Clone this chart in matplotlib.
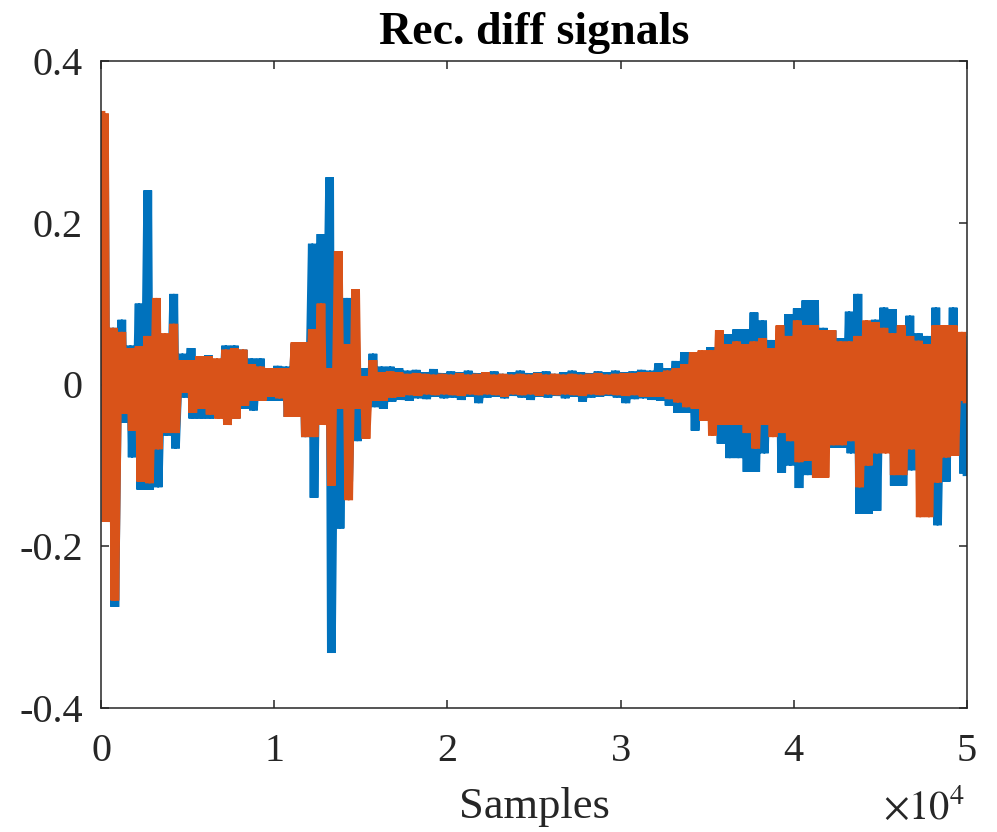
import matplotlib
matplotlib.use('Agg')
import matplotlib.pyplot as plt
import numpy as np

plt.rcParams['font.family'] = ['Liberation Serif', 'DejaVu Serif']
plt.rcParams['mathtext.fontset'] = 'stix'

# each bin covers 500 samples; values are the upper / lower swing read in that bin
bin_width = 500

blue_hi = [0.31, 0.07, 0.08, 0.048, 0.10, 0.24, 0.05, 0.05, 0.112, 0.038,
           0.045, 0.035, 0.036, 0.021, 0.048, 0.048, 0.043, 0.032, 0.032, 0.02,
           0.023, 0.022, 0.05, 0.05, 0.174, 0.186, 0.256, 0.10, 0.107, 0.06,
           0.02, 0.038, 0.022, 0.022, 0.02, 0.017, 0.018, 0.015, 0.019, 0.014,
           0.016, 0.015, 0.017, 0.014, 0.015, 0.016, 0.013, 0.015, 0.017, 0.014,
           0.015, 0.016, 0.013, 0.015, 0.017, 0.015, 0.014, 0.016, 0.015, 0.017,
           0.015, 0.016, 0.018, 0.017, 0.026, 0.02, 0.029, 0.04, 0.03, 0.035,
           0.046, 0.04, 0.062, 0.068, 0.068, 0.089, 0.079, 0.055, 0.06, 0.087,
           0.094, 0.104, 0.104, 0.07, 0.067, 0.057, 0.09, 0.112, 0.07, 0.08,
           0.095, 0.093, 0.07, 0.085, 0.063, 0.06, 0.095, 0.06, 0.095, 0.06]
blue_lo = [-0.17, -0.275, -0.047, -0.09, -0.13, -0.13, -0.127, -0.063, -0.079, -0.016,
           -0.042, -0.042, -0.042, -0.033, -0.05, -0.042, -0.03, -0.032, -0.02, -0.02,
           -0.02, -0.04, -0.04, -0.065, -0.14, -0.05, -0.332, -0.178, -0.12, -0.07,
           -0.05, -0.028, -0.03, -0.021, -0.019, -0.02, -0.017, -0.018, -0.015, -0.017,
           -0.016, -0.019, -0.015, -0.023, -0.016, -0.015, -0.017, -0.014, -0.016, -0.019,
           -0.015, -0.016, -0.014, -0.017, -0.015, -0.021, -0.016, -0.015, -0.014, -0.016,
           -0.023, -0.018, -0.017, -0.019, -0.02, -0.026, -0.035, -0.035, -0.057, -0.04,
           -0.05, -0.073, -0.091, -0.091, -0.108, -0.108, -0.085, -0.06, -0.109, -0.10,
           -0.128, -0.112, -0.09, -0.07, -0.078, -0.078, -0.085, -0.16, -0.16, -0.156,
           -0.08, -0.125, -0.125, -0.106, -0.10, -0.137, -0.174, -0.12, -0.08, -0.11]

orange_hi = [0.335, 0.07, 0.065, 0.045, 0.047, 0.06, 0.107, 0.063, 0.075, 0.03,
             0.03, 0.035, 0.035, 0.032, 0.043, 0.045, 0.043, 0.025, 0.022, 0.02,
             0.02, 0.02, 0.052, 0.052, 0.068, 0.10, 0.02, 0.165, 0.05, 0.118,
             0.01, 0.03, 0.015, 0.016, 0.015, 0.013, 0.014, 0.013, 0.012, 0.013,
             0.012, 0.014, 0.012, 0.013, 0.015, 0.012, 0.013, 0.012, 0.013, 0.012,
             0.014, 0.012, 0.013, 0.012, 0.013, 0.012, 0.013, 0.014, 0.012, 0.013,
             0.014, 0.014, 0.015, 0.015, 0.015, 0.017, 0.02, 0.025, 0.04, 0.042,
             0.042, 0.067, 0.05, 0.053, 0.05, 0.053, 0.057, 0.045, 0.073, 0.06,
             0.079, 0.073, 0.073, 0.067, 0.067, 0.053, 0.053, 0.06, 0.079, 0.077,
             0.07, 0.063, 0.073, 0.06, 0.054, 0.05, 0.073, 0.073, 0.073, 0.065]
orange_lo = [-0.17, -0.267, -0.036, -0.057, -0.12, -0.122, -0.08, -0.06, -0.06, -0.01,
             -0.035, -0.03, -0.037, -0.042, -0.05, -0.042, -0.026, -0.02, -0.02, -0.015,
             -0.017, -0.04, -0.04, -0.065, -0.065, -0.05, -0.125, -0.03, -0.143, -0.03,
             -0.067, -0.02, -0.02, -0.016, -0.015, -0.013, -0.014, -0.012, -0.013, -0.012,
             -0.013, -0.014, -0.012, -0.013, -0.012, -0.013, -0.015, -0.012, -0.013, -0.012,
             -0.014, -0.012, -0.013, -0.012, -0.013, -0.014, -0.012, -0.013, -0.012, -0.013,
             -0.014, -0.013, -0.015, -0.015, -0.015, -0.018, -0.022, -0.028, -0.03, -0.045,
             -0.063, -0.05, -0.05, -0.05, -0.06, -0.079, -0.05, -0.065, -0.06, -0.07,
             -0.096, -0.094, -0.115, -0.115, -0.075, -0.075, -0.07, -0.127, -0.10, -0.085,
             -0.085, -0.112, -0.112, -0.08, -0.164, -0.164, -0.121, -0.09, -0.088, -0.02]


def swing(hi, lo):
    # the signal swings between the bin's high and low twice inside each bin
    n = len(hi)
    starts = np.arange(n) * bin_width
    x = np.empty(4 * n)
    y = np.empty(4 * n)
    for k, f in enumerate([0.2, 0.4, 0.6, 0.8]):
        x[k::4] = starts + f * bin_width
    y[0::4] = hi
    y[1::4] = lo
    y[2::4] = hi
    y[3::4] = lo
    return x, y


fig = plt.figure(figsize=(9.97, 8.32), dpi=100)
ax = fig.add_axes([101 / 997, 1 - 708 / 832, 866 / 997, 647 / 832])

xb, yb = swing(blue_hi, blue_lo)
xo, yo = swing(orange_hi, orange_lo)
ax.plot(xb, yb, color='#0072BD', lw=3.8, solid_joinstyle='bevel')
ax.plot(xo, yo, color='#D95319', lw=3.8, solid_joinstyle='bevel')

ax.set_xlim(0, 50000)
ax.set_ylim(-0.4, 0.4)
ax.set_xticks([0, 10000, 20000, 30000, 40000, 50000])
ax.set_xticklabels(['0', '1', '2', '3', '4', '5'])
ax.set_yticks([-0.4, -0.2, 0, 0.2, 0.4])
ax.set_yticklabels(['-0.4', '-0.2', '0', '0.2', '0.4'])

for s in ax.spines.values():
    s.set_color('#262626')
    s.set_linewidth(1.1)
ax.tick_params(direction='in', length=6, width=1.1, color='#262626',
               labelcolor='#262626', labelsize=29, top=True, right=True)
ax.tick_params(axis='x', pad=18)
ax.tick_params(axis='y', pad=13)

ax.set_title('Rec. diff signals', fontsize=33, fontweight='bold', pad=12)
ax.set_xlabel('Samples', fontsize=32, color='#262626', labelpad=12)
fig.text(965 / 997, 4 / 832, r'$\times10^{4}$', fontsize=29, color='#262626',
         ha='right', va='bottom')

fig.savefig('out.png', dpi=100)
